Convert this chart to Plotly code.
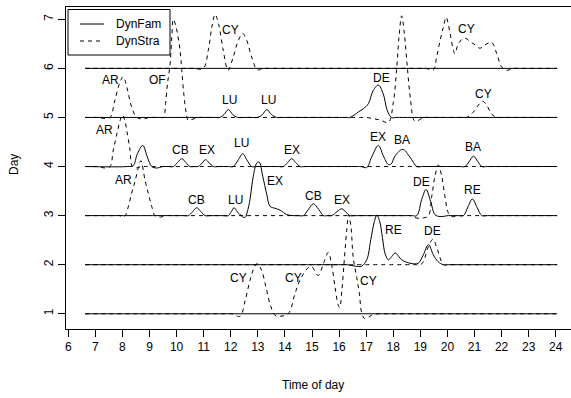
import plotly.graph_objects as go

# ---------------- data (hours, height above the day's baseline) ----------------
days = [1, 2, 3, 4, 5, 6]
x_ticks = list(range(6, 25))
y_ticks = [1, 2, 3, 4, 5, 6, 7]

# DynFam (solid)
fam1_t = [6.62, 24.05]
fam1_h = [0, 0]
fam2_t = [6.62, 16.1, 16.3, 16.59, 16.83, 17.02, 17.17, 17.29, 17.39, 17.5, 17.6, 17.70, 17.82, 17.95, 18.07, 18.2,
          18.31, 18.62, 18.92, 19.11, 19.3, 19.48, 19.66, 19.85, 20.05, 24.05]
fam2_h = [0, 0, 0, -0.03, -0.03, 0.10, 0.51, 0.85, 1.01, 0.88, 0.55, 0.22, 0.10, 0.17, 0.24, 0.17,
          0.10, 0.03, 0.03, 0.2, 0.41, 0.2, 0.06, 0, 0, 0]
fam3_t = [6.62, 10.25, 10.43, 10.59, 10.74, 10.9, 11.05, 11.25, 11.7, 11.91, 12.02, 12.12, 12.24, 12.34, 12.52,
          12.62, 12.71, 12.83, 12.96, 13.05, 13.18, 13.33, 13.45, 13.63, 13.82, 14.07, 14.31, 14.5, 14.68,
          14.87, 15.05, 15.24, 15.42, 15.57, 15.73, 15.92, 16.1, 16.25, 16.4, 16.6, 18.67, 18.87, 19.05,
          19.21, 19.38, 19.54, 19.73, 20.03, 20.2, 20.4, 20.59, 20.76, 20.92, 21.1, 21.27, 21.47, 24.05]
fam3_h = [0, 0, 0, 0.08, 0.16, 0.08, 0, 0, 0, 0, 0.08, 0.16, 0.08, 0.02, -0.04,
          0.1, 0.33, 0.80, 1.07, 1.09, 0.80, 0.43, 0.19, 0.15, 0.11, 0.02, 0, 0, 0,
          0.13, 0.24, 0.13, 0, 0, 0, 0.08, 0.14, 0.07, 0, 0, 0, 0, 0.33,
          0.53, 0.29, 0.02, -0.02, 0, 0, 0, 0, 0.18, 0.34, 0.16, 0, 0, 0]
fam4_t = [6.62, 8.2, 8.40, 8.55, 8.75, 8.92, 9.08, 9.26, 9.5, 9.7, 9.88, 10.03, 10.19, 10.34, 10.49,
          10.65, 10.8, 10.94, 11.07, 11.21, 11.35, 11.55, 11.9, 12.09, 12.27, 12.44, 12.6, 12.77, 12.97,
          13.74, 13.94, 14.1, 14.25, 14.4, 14.56, 14.76, 16.6, 16.8, 17.02, 17.20, 17.45, 17.63, 17.82,
          17.92, 18.07, 18.35, 18.62, 18.87, 19.07, 20.45, 20.65, 20.8, 20.96, 21.12, 21.27, 21.47, 24.05]
fam4_h = [0, 0, 0.02, 0.26, 0.43, 0.19, 0, -0.03, 0, 0, 0, 0.08, 0.16, 0.08, 0,
          0, 0, 0.07, 0.14, 0.07, 0, 0, 0, 0, 0.13, 0.26, 0.13, 0, 0,
          0, 0, 0.08, 0.16, 0.08, 0, 0, 0, 0, -0.02, 0.19, 0.43, 0.22, 0.04,
          0.05, 0.22, 0.35, 0.19, 0, 0, 0, 0, 0.1, 0.21, 0.1, 0, 0, 0]
fam5_t = [6.62, 11.4, 11.6, 11.75, 11.91, 12.07, 12.25, 12.45, 12.8, 13.0, 13.17, 13.33, 13.5, 13.7, 13.9,
          16.2, 16.4, 16.71, 16.9, 17.08, 17.26, 17.45, 17.63, 17.78, 17.94, 18.14, 24.05]
fam5_h = [0, 0, 0, 0.06, 0.16, 0.06, 0, 0, 0, 0, 0.06, 0.16, 0.06, 0, 0,
          0, 0, 0.11, 0.18, 0.28, 0.55, 0.66, 0.48, 0.14, 0, 0, 0]
fam6_t = [6.62, 24.05]
fam6_h = [0, 0]

# DynStra (dashed)
stra1_t = [6.62, 11.7, 11.9, 12.03, 12.34, 12.53, 12.71, 12.87, 12.98, 13.14, 13.3, 13.45, 13.63, 13.82,
           14.12, 14.37, 14.55, 14.86, 14.99, 15.23, 15.42, 15.6, 15.73, 15.85, 15.97, 16.02, 16.1, 16.18,
           16.28, 16.35, 16.44, 16.52, 16.65, 16.75, 16.83, 16.95, 17.2, 17.45, 17.65, 24.05]
stra1_h = [0, 0, 0, 0, -0.05, 0.27, 0.68, 0.95, 1.02, 0.88, 0.54, 0.2, -0.03, -0.05,
           0, 0.41, 0.68, 0.94, 0.96, 0.78, 1.02, 1.25, 0.98, 0.54, 0.17, 0.13, 0.47, 1.02,
           1.69, 2.02, 1.76, 1.15, 0.74, 0.41, 0.03, -0.1, -0.03, 0, 0, 0]
stra2_t = [6.62, 18.8, 19.0, 19.11, 19.3, 19.46, 19.6, 19.73, 19.85, 20.05, 24.05]
stra2_h = [0, 0, 0, 0.06, 0.37, 0.52, 0.36, 0.14, 0, 0, 0]
stra3_t = [6.62, 7.7, 7.91, 8.0, 8.1, 8.22, 8.34, 8.46, 8.58, 8.68, 8.83, 8.95, 9.08, 9.2, 9.39, 9.6,
           9.8, 18.4, 18.6, 18.87, 19.1, 19.3, 19.42, 19.54, 19.66, 19.79, 19.91, 20.03, 20.16, 20.4,
           20.6, 24.05]
stra3_h = [0, 0, 0, -0.03, 0.0, 0.19, 0.46, 0.69, 0.96, 1.12, 0.73, 0.46, 0.19, 0, -0.03, 0,
           0, 0, 0, -0.05, -0.05, 0.0, 0.39, 0.80, 1.03, 0.80, 0.39, 0.06, -0.02, 0,
           0, 0]
stra4_t = [6.62, 6.9, 7.1, 7.35, 7.54, 7.66, 7.79, 7.92, 8.0, 8.08, 8.16, 8.28, 8.36, 8.5, 8.7, 8.9, 24.05]
stra4_h = [0, 0, 0, -0.03, 0, 0.33, 0.66, 0.95, 1.05, 0.95, 0.73, 0.33, 0.0, -0.03, 0, 0, 0]
stra5_t = [6.62, 6.9, 7.1, 7.3, 7.54, 7.72, 7.91, 8.03, 8.16, 8.34, 8.53, 8.77, 9.0, 9.2, 9.4, 9.52, 9.59,
           9.66, 9.76, 9.82, 9.88, 9.98, 10.12, 10.19, 10.27, 10.35, 10.43, 10.62, 10.86, 11.06, 16.8,
           17.02, 17.3, 17.51, 17.82, 18.0, 18.13, 18.21, 18.31, 18.41, 18.52, 18.64, 18.77, 18.89, 19.11,
           19.31, 20.5, 20.71, 20.96, 21.14, 21.30, 21.45, 21.63, 21.82, 22.02, 24.05]
stra5_h = [0, 0, 0, -0.02, 0.0, 0.35, 0.72, 0.83, 0.62, 0.21, 0, -0.03, 0, 0, 0, 0.0, 0.28,
           0.68, 1.09, 1.63, 2.0, 1.84, 1.40, 0.96, 0.45, 0.11, -0.06, -0.03, 0, 0, 0,
           0, -0.03, -0.05, -0.1, 0.3, 1.02, 1.63, 2.07, 1.70, 1.02, 0.35, -0.06, -0.07, 0,
           0, 0, 0, 0.11, 0.25, 0.33, 0.25, 0.07, 0, 0, 0]
stra6_t = [6.62, 10.4, 10.6, 10.98, 11.17, 11.30, 11.42, 11.55, 11.72, 11.9, 12.09, 12.28, 12.44, 12.59,
           12.77, 12.98, 13.2, 13.4, 19.0, 19.2, 19.48, 19.6, 19.73, 19.85, 19.95, 20.1, 20.22, 20.28,
           20.40, 20.59, 20.68, 20.83, 21.02, 21.2, 21.39, 21.63, 21.82, 22.0, 22.19, 22.43, 22.63, 24.05]
stra6_h = [0, 0, 0, 0, 0.37, 0.84, 1.10, 0.9, 0.37, -0.04, 0.23, 0.57, 0.71, 0.57,
           0.23, -0.03, 0, 0, 0, 0, -0.03, 0.23, 0.57, 0.84, 1.04, 0.71, 0.37, 0.30,
           0.50, 0.61, 0.61, 0.55, 0.48, 0.41, 0.48, 0.53, 0.30, 0.03, -0.04, 0, 0, 0]

# labels: text, hour, day-axis position
label_text = ["CY", "CY",
              "AR", "OF", "LU", "LU", "DE", "CY",
              "AR", "CB", "EX", "LU", "EX", "EX", "BA", "BA",
              "AR", "CB", "LU", "EX", "CB", "EX", "DE", "RE",
              "RE", "DE",
              "CY", "CY", "CY"]
label_x = [11.98, 20.72,
           7.54, 9.29, 11.97, 13.39, 17.57, 21.33,
           7.32, 10.16, 11.11, 12.40, 14.25, 17.45, 18.31, 20.96,
           8.03, 10.74, 12.16, 13.63, 15.07, 16.10, 19.05, 20.93,
           18.0, 19.46,
           12.28, 14.31, 17.08]
label_y = [6.78, 6.81,
           5.76, 5.76, 5.35, 5.35, 5.81, 5.48,
           4.74, 4.34, 4.34, 4.47, 4.34, 4.61, 4.54, 4.39,
           3.73, 3.32, 3.32, 3.71, 3.39, 3.31, 3.69, 3.52,
           2.71, 2.68,
           1.73, 1.73, 1.66]

legend_names = ["DynFam", "DynStra"]

fam_t = [fam1_t, fam2_t, fam3_t, fam4_t, fam5_t, fam6_t]
fam_h = [fam1_h, fam2_h, fam3_h, fam4_h, fam5_h, fam6_h]
stra_t = [stra1_t, stra2_t, stra3_t, stra4_t, stra5_t, stra6_t]
stra_h = [stra1_h, stra2_h, stra3_h, stra4_h, stra5_h, stra6_h]

FONT = "Liberation Sans, Arial, Helvetica, sans-serif"
DASH = "4px,4px"

fig = go.Figure()
for i, d in enumerate(days):
    fig.add_trace(go.Scatter(
        x=fam_t[i], y=[d + v for v in fam_h[i]], mode="lines",
        line=dict(color="black", width=1, shape="spline", smoothing=1.0),
        name=legend_names[0], showlegend=False, hoverinfo="skip"))
for i, d in enumerate(days):
    fig.add_trace(go.Scatter(
        x=stra_t[i], y=[d + v for v in stra_h[i]], mode="lines",
        line=dict(color="black", width=1, dash=DASH, shape="spline", smoothing=1.0),
        name=legend_names[1], showlegend=False, hoverinfo="skip"))

for txt, x, y in zip(label_text, label_x, label_y):
    fig.add_annotation(x=x, y=y, text=txt, showarrow=False,
                       font=dict(family=FONT, size=12, color="black"))

# plot-area geometry (px) used to place the R-style legend box and axis titles
L, R, T, B = 66, 571, 7, 329
W, H = R - L, B - T
px = lambda p: (p - L) / W
py = lambda p: (B - p) / H

# legend box (R style)
fig.add_shape(type="rect", xref="paper", yref="paper",
              x0=px(68), x1=px(170), y0=py(55), y1=py(9.5),
              line=dict(color="black", width=1), fillcolor="white", layer="above")
fig.add_shape(type="line", xref="paper", yref="paper",
              x0=px(80), x1=px(104), y0=py(24), y1=py(24),
              line=dict(color="black", width=1), layer="above")
fig.add_shape(type="line", xref="paper", yref="paper",
              x0=px(80), x1=px(104), y0=py(41), y1=py(41),
              line=dict(color="black", width=1, dash=DASH), layer="above")
for name, yy in zip(legend_names, [24, 41]):
    fig.add_annotation(xref="paper", yref="paper", x=px(114), y=py(yy), text=name,
                       showarrow=False, xanchor="left", yanchor="middle",
                       font=dict(family=FONT, size=12, color="black"))

# axis titles
fig.add_annotation(xref="paper", yref="paper", x=px(313), y=py(385), text="Time of day",
                   showarrow=False, xanchor="center", yanchor="middle",
                   font=dict(family=FONT, size=12, color="black"))
fig.add_annotation(xref="paper", yref="paper", x=px(14), y=py(165), text="Day", textangle=-90,
                   showarrow=False, xanchor="center", yanchor="middle",
                   font=dict(family=FONT, size=12, color="black"))

fig.update_layout(
    width=571, height=398,
    margin=dict(l=L, r=0, t=T, b=398 - B, autoexpand=False),
    paper_bgcolor="white", plot_bgcolor="white",
    font=dict(family=FONT, size=12, color="black"),
    showlegend=False,
    xaxis=dict(range=[5.915, 24.563], tickvals=x_ticks, ticktext=[str(v) for v in x_ticks],
               showline=True, mirror=True, linecolor="black", linewidth=1,
               ticks="outside", ticklen=7, tickwidth=1, tickcolor="black",
               showgrid=False, zeroline=False, automargin=False),
    yaxis=dict(range=[0.69, 7.25], tickvals=y_ticks, ticktext=[str(v) for v in y_ticks],
               showline=True, mirror=False, linecolor="black", linewidth=1,
               ticks="outside", ticklen=7, tickwidth=1, tickcolor="black", tickangle=-90,
               showgrid=False, zeroline=False, automargin=False),
)

fig.write_html("out.html", config={"displayModeBar": False, "staticPlot": True},
               post_script="document.body.style.margin='0';document.body.style.overflow='hidden';")
